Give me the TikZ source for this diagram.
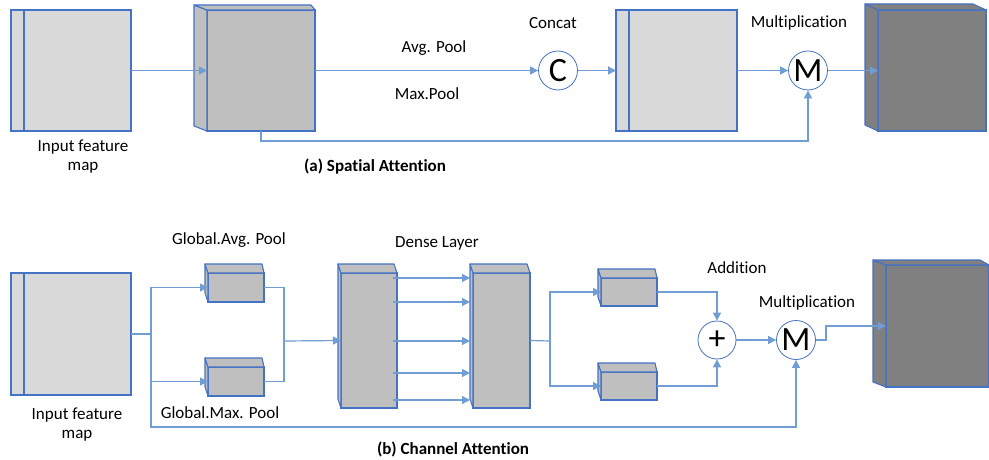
\documentclass[tikz,border=0pt]{standalone}
\usepackage{fontspec}
\setmainfont{Carlito}[Ligatures=NoCommon]
\usetikzlibrary{arrows.meta,calc}
\definecolor{edge}{HTML}{4472C4}
\definecolor{conn}{HTML}{6F9DD4}
\definecolor{lightf}{HTML}{D9D9D9}
\definecolor{midf}{HTML}{BFBFBF}
\definecolor{darkf}{HTML}{808080}
\tikzset{
  face/.style={draw=edge,line width=1.1pt,inner sep=0pt,outer sep=0pt,rectangle},
  circ/.style={draw=edge,line width=0.8pt,circle,minimum size=39pt,inner sep=0pt,fill=white,font=\fontsize{34}{34}\selectfont},
  conline/.style={draw=conn,line width=1.2pt},
  arr/.style={conline,-{Triangle[length=8pt,width=8pt]}},
  lbl/.style={font=\fontsize{17}{19}\selectfont,align=center,inner sep=0pt},
  ttl/.style={font=\bfseries\fontsize{17}{19}\selectfont,inner sep=0pt}
}
% #1 node name, #2 side x offset, #3 depth (negative = up), #4 top-right x offset, #5 fill
\newcommand{\mycube}[5]{%
  \filldraw[draw=edge,line width=1.1pt,fill=#5,line join=round]
    ($(#1.north west)+(#2,#3)$) -- (#1.north west) -- (#1.south west) -- ($(#1.south west)+(#2,#3)$) -- cycle;
  \filldraw[draw=edge,line width=1.1pt,fill=#5,line join=round]
    ($(#1.north west)+(#2,#3)$) -- ($(#1.north east)+(#4,#3)$) -- (#1.north east) -- (#1.north west) -- cycle;
}
\newcommand{\myslab}[1]{%
  \draw[draw=edge,line width=1.1pt] ($(#1.north west)+(13,0)$) -- ($(#1.south west)+(13,0)$);
}
\begin{document}
\begin{tikzpicture}[x=1pt,y=-1pt]
\useasboundingbox (0,0) rectangle (989,460);
\fill[white] (0,0) rectangle (989,460);

% ---------- (a) spatial attention ----------
\node[face,fill=lightf,minimum width=120pt,minimum height=121pt] (in1) at (71,70.5) {};
\myslab{in1}
\node[face,fill=midf,minimum width=108pt,minimum height=121pt] (b2) at (261,70.5) {};
\mycube{b2}{-13}{-5}{-4}{midf}
\node[circ] (C) at (558,70.5) {C};
\node[face,fill=lightf,minimum width=121pt,minimum height=121pt] (b3) at (676.5,70.5) {};
\myslab{b3}
\node[circ] (M1) at (808,70.5) {M};
\node[face,fill=darkf,minimum width=108pt,minimum height=121pt] (o1) at (932,70.5) {};
\mycube{o1}{-13}{-6}{-13}{darkf}

\draw[arr] (in1.east) -- (b2.west);
\draw[arr] (b2.east) -- (C.west);
\draw[arr] (C.east) -- (b3.west);
\draw[arr] (b3.east) -- (M1.west);
\draw[arr] (M1.east) -- (o1.west);
\draw[arr] (b2.south) -- ++(0,10) -| (M1.south);

\node[lbl] (t1) at (83,157) {Input feature\\map};
\node[lbl] (t2) at (434,48) {Avg. Pool};
\node[lbl] (t3) at (427,94) {Max.Pool};
\node[lbl] (t4) at (553,23) {Concat};
\node[lbl] (t5) at (799,23) {Multiplication};
\node[ttl] (t6) at (375,167) {(a) Spatial Attention};

% ---------- (b) channel attention ----------
\node[face,fill=lightf,minimum width=120pt,minimum height=122pt] (in2) at (71,334) {};
\myslab{in2}
\node[face,fill=midf,minimum width=56pt,minimum height=29pt] (avg) at (236,287.5) {};
\mycube{avg}{-3}{-9}{-2}{midf}
\node[face,fill=midf,minimum width=56pt,minimum height=29pt] (max) at (236,381.5) {};
\mycube{max}{-3}{-9}{-2}{midf}
\node[face,fill=midf,minimum width=56pt,minimum height=135pt] (d1) at (369,340.5) {};
\mycube{d1}{-3}{-9}{-3}{midf}
\node[face,fill=midf,minimum width=57pt,minimum height=135pt] (d2) at (501.5,340.5) {};
\mycube{d2}{-3}{-9}{-3}{midf}
\node[face,fill=midf,minimum width=56pt,minimum height=28pt] (s1) at (629,292) {};
\mycube{s1}{-3}{-9}{-2}{midf}
\node[face,fill=midf,minimum width=56pt,minimum height=28pt] (s2) at (629,386) {};
\mycube{s2}{-3}{-9}{-2}{midf}
\node[circ,minimum size=38pt] (P) at (717,340) {+};
\node[circ] (M2) at (796,340) {M};
\node[face,fill=darkf,minimum width=103pt,minimum height=122pt] (o2) at (937.5,326) {};
\mycube{o2}{-13}{-5}{-9}{darkf}

\coordinate (br) at (151,334);
\coordinate (fb) at (151,427);
\coordinate (j) at (284,341);
\coordinate (k) at (550,341);

\draw[conline] (in2.east) -- (br);
\draw[arr] (br) |- (avg.west);
\draw[arr] (br) |- (max.west);
\draw[arr] (br) -- (fb) -| (M2.south);
\draw[conline] (avg.east) -| (j);
\draw[conline] (max.east) -| (j);
\draw[arr] (j) -- (d1.west);
\foreach \yy in {278,302,341,373,400}
  \draw[arr] ($(d1.east |- 0,\yy)+(-4,0)$) -- ($(d2.west |- 0,\yy)+(-3,0)$);
\draw[conline] (d2.east) -- (k);
\draw[arr] (k) |- (s1.west);
\draw[arr] (k) |- (s2.west);
\draw[arr] (s1.east) -| (P.north);
\draw[arr] (s2.east) -| (P.south);
\draw[arr] (P.east) -- (M2.west);
\draw[arr] (M2.east) -- ++(10,0) |- (o2.west);

\node[lbl] (u1) at (77,425) {Input feature\\map};
\node[lbl] (u2) at (229,240) {Global.Avg. Pool};
\node[lbl] (u3) at (220,413) {Global.Max. Pool};
\node[lbl] (u4) at (437,243) {Dense Layer};
\node[lbl] (u5) at (737,268) {Addition};
\node[lbl] (u6) at (807,303) {Multiplication};
\node[ttl] (u7) at (453,449) {(b) Channel Attention};
\end{tikzpicture}
\end{document}
